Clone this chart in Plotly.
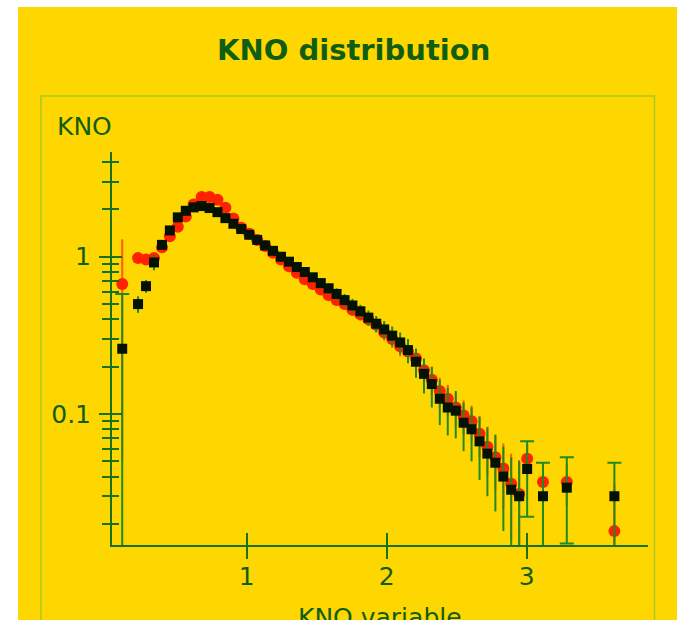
import plotly.graph_objects as go

# ---------------- data ----------------
kno_x = [0.111, 0.224, 0.281, 0.338, 0.395, 0.451, 0.508, 0.565, 0.621, 0.678,
         0.735, 0.791, 0.848, 0.905, 0.961, 1.018, 1.075, 1.132, 1.188, 1.245,
         1.302, 1.358, 1.415, 1.472, 1.529, 1.585, 1.642, 1.699, 1.755, 1.812,
         1.869, 1.925, 1.982, 2.039, 2.096, 2.152, 2.209, 2.266, 2.322, 2.379,
         2.436, 2.493, 2.549, 2.606, 2.663, 2.719, 2.776, 2.833, 2.889, 2.946,
         3.003, 3.116, 3.286, 3.626]

black_y = [0.26, 0.50, 0.65, 0.92, 1.19, 1.47, 1.78, 1.96, 2.06, 2.10,
           2.04, 1.92, 1.76, 1.62, 1.50, 1.38, 1.28, 1.18, 1.09, 1.00,
           0.93, 0.86, 0.80, 0.74, 0.68, 0.63, 0.58, 0.53, 0.49, 0.45,
           0.41, 0.375, 0.345, 0.315, 0.285, 0.255, 0.215, 0.18, 0.155, 0.125,
           0.11, 0.105, 0.088, 0.08, 0.067, 0.056, 0.049, 0.040, 0.033, 0.030,
           0.0447, 0.030, 0.034, 0.030]

black_err = [0.32, 0.06, 0.06, 0.10, 0.08, 0.08, 0.08, 0.08, 0.08, 0.08,
             0.08, 0.08, 0.07, 0.07, 0.06, 0.06, 0.06, 0.055, 0.055, 0.05,
             0.05, 0.05, 0.05, 0.05, 0.05, 0.05, 0.05, 0.05, 0.05, 0.045,
             0.045, 0.045, 0.045, 0.045, 0.045, 0.045, 0.045, 0.045, 0.045, 0.04,
             0.037, 0.035, 0.03, 0.03, 0.029, 0.026, 0.025, 0.022, 0.02, 0.02,
             0.0225, 0.019, 0.019, 0.019]

red_y = [0.67, 0.98, 0.96, 0.98, 1.15, 1.35, 1.55, 1.80, 2.15, 2.40,
         2.40, 2.30, 2.05, 1.75, 1.53, 1.40, 1.28, 1.17, 1.06, 0.96,
         0.87, 0.79, 0.72, 0.67, 0.62, 0.57, 0.53, 0.50, 0.46, 0.43,
         0.40, 0.37, 0.33, 0.30, 0.27, 0.25, 0.225, 0.19, 0.165, 0.14,
         0.125, 0.11, 0.098, 0.09, 0.075, 0.062, 0.053, 0.045, 0.036, 0.031,
         0.052, 0.037, 0.037, 0.018]

red_err = [0.62, 0.07, 0.07, 0.08, 0.07, 0.07, 0.07, 0.07, 0.07, 0.07,
           0.07, 0.07, 0.06, 0.06, 0.055, 0.05, 0.05, 0.045, 0.045, 0.04,
           0.04, 0.04, 0.04, 0.04, 0.04, 0.04, 0.04, 0.04, 0.04, 0.037,
           0.037, 0.037, 0.037, 0.037, 0.037, 0.037, 0.035, 0.035, 0.033, 0.03,
           0.028, 0.026, 0.024, 0.023, 0.022, 0.021, 0.02, 0.02, 0.02, 0.02,
           0.012, 0.011, 0.011, 0.018]

x_ticks = [1, 2, 3]
y_major = [0.1, 1]
y_minor = [0.02, 0.03, 0.04, 0.05, 0.06, 0.07, 0.08, 0.09,
           0.2, 0.3, 0.4, 0.5, 0.6, 0.7, 0.8, 0.9, 2, 3, 4]

title_text = "KNO distribution"
y_title = "KNO"
x_title = "KNO variable"

# ---------------- styling ----------------
W, H = 688, 620
L, R, T, B = 112, 648, 152, 545          # plot area in page pixels
X_RANGE = [0.038, 3.866]
Y_RANGE = [-1.833, 0.666]                # log10

GOLD = "#FFD700"
AXIS = "#17701a"
TEXT = "#0f5e12"
ERRC = "#1f8a1f"
FONT = "DejaVu Sans"


def fx(px):
    return (px - L) / (R - L)


def fy(py):
    return (B - py) / (B - T)


capped = [i for i, x in enumerate(kno_x) if i == 0 or x > 3]
plain = [i for i in range(len(kno_x)) if i not in capped]


def pick(arr, idx):
    return [arr[i] for i in idx]


fig = go.Figure()

# red series (drawn underneath)
fig.add_trace(go.Scatter(
    x=kno_x, y=red_y, mode="markers", xaxis="x", yaxis="y",
    marker=dict(symbol="circle", size=12, color="#ff2200"),
    error_y=dict(type="data", array=red_err, visible=True, color="#ff5a10",
                 thickness=2, width=0),
    showlegend=False, hoverinfo="skip"))

# black series on overlay axes (drawn on top)
for idx, cap in ((plain, 0), (capped, 7)):
    fig.add_trace(go.Scatter(
        x=pick(kno_x, idx), y=pick(black_y, idx), mode="markers",
        xaxis="x2", yaxis="y2",
        marker=dict(symbol="square", size=10, color="#031203"),
        error_y=dict(type="data", array=pick(black_err, idx), visible=True,
                     color=ERRC, thickness=2, width=cap),
        showlegend=False, hoverinfo="skip"))

tickfont = dict(family=FONT, size=25, color=TEXT)

fig.update_layout(
    width=W, height=H,
    margin=dict(l=L, r=W - R, t=T, b=H - B, pad=0),
    paper_bgcolor=GOLD, plot_bgcolor="rgba(0,0,0,0)",
    showlegend=False,
    xaxis=dict(range=X_RANGE, showgrid=False, zeroline=False,
               showline=True, linecolor=AXIS, linewidth=2,
               tickmode="array", tickvals=x_ticks, ticktext=[str(v) for v in x_ticks],
               ticks="outside", ticklen=12, tickwidth=2, tickcolor=AXIS,
               tickfont=tickfont, ticklabelstandoff=-4),
    yaxis=dict(type="log", range=Y_RANGE, showgrid=False, zeroline=False,
               showline=True, linecolor=AXIS, linewidth=2,
               tickmode="array", tickvals=y_major, ticktext=["0.1", "1"],
               ticks="outside", ticklen=11, tickwidth=2, tickcolor=AXIS,
               tickfont=tickfont, ticklabelstandoff=3,
               minor=dict(tickmode="array", tickvals=y_minor, ticks="outside",
                          ticklen=8, tickwidth=2, tickcolor=AXIS, showgrid=False)),
    xaxis2=dict(overlaying="x", anchor="y", side="bottom", range=X_RANGE,
                showgrid=False, zeroline=False, showline=False,
                tickmode="array", tickvals=x_ticks, ticks="inside", ticklen=12,
                tickwidth=2, tickcolor=AXIS, showticklabels=False),
    yaxis2=dict(overlaying="y", anchor="x", side="left", type="log", range=Y_RANGE,
                showgrid=False, zeroline=False, showline=False,
                tickmode="array", tickvals=y_major, ticks="inside", ticklen=10,
                tickwidth=2, tickcolor=AXIS, showticklabels=False,
                minor=dict(tickmode="array", tickvals=y_minor, ticks="inside",
                           ticklen=7, tickwidth=2, tickcolor=AXIS, showgrid=False)),
)

# white page margins around the gold panel, and the inner frame
shapes = [
    dict(type="rect", xref="paper", yref="paper", x0=fx(-5), x1=fx(18), y0=fy(-5), y1=fy(H + 5),
         fillcolor="white", line_width=0, layer="above"),
    dict(type="rect", xref="paper", yref="paper", x0=fx(-5), x1=fx(W + 5), y0=fy(-5), y1=fy(7),
         fillcolor="white", line_width=0, layer="above"),
    dict(type="rect", xref="paper", yref="paper", x0=fx(677), x1=fx(W + 5), y0=fy(-5), y1=fy(H + 5),
         fillcolor="white", line_width=0, layer="above"),
    dict(type="rect", xref="paper", yref="paper", x0=fx(41), x1=fx(654.5), y0=fy(96), y1=fy(H + 30),
         line=dict(color="#a9c91c", width=1.5), fillcolor="rgba(0,0,0,0)", layer="below"),
]
fig.update_layout(shapes=shapes)

fig.add_annotation(text="<b>" + title_text + "</b>", xref="paper", yref="paper",
                   x=fx(353), y=fy(50), xanchor="center", yanchor="middle", showarrow=False,
                   font=dict(family=FONT, size=29, color=TEXT))
fig.add_annotation(text=y_title, xref="paper", yref="paper",
                   x=fx(84), y=fy(127), xanchor="center", yanchor="middle", showarrow=False,
                   font=dict(family=FONT, size=25, color=TEXT))
fig.add_annotation(text=x_title, xref="paper", yref="paper",
                   x=fx(380), y=fy(617), xanchor="center", yanchor="middle", showarrow=False,
                   font=dict(family=FONT, size=25, color=TEXT))

fig.write_html("out.html", config={"displayModeBar": False},
               post_script="document.body.style.margin='0';document.body.style.overflow='hidden';")
